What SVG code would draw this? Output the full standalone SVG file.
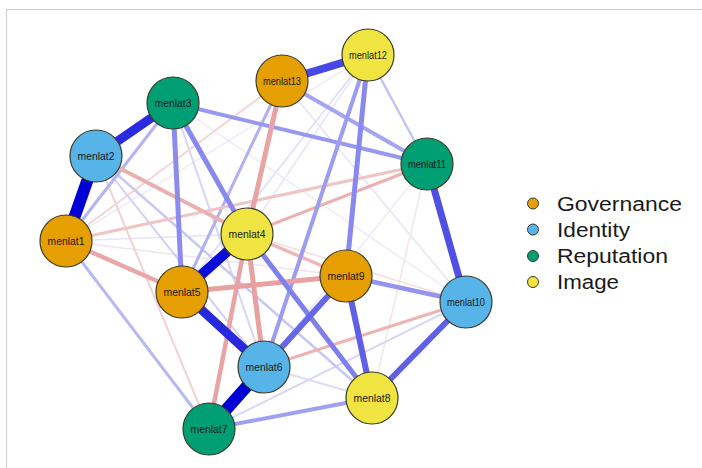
<svg xmlns="http://www.w3.org/2000/svg" width="702" height="468" viewBox="0 0 702 468">
<style>
.frame{fill:none;stroke:#cfcfcf;stroke-width:1.2}
.e{fill:none;stroke-linecap:butt}
.n circle{stroke:#3a3a2a;stroke-width:1.2}
.n text{font-family:"Liberation Sans",Arial,sans-serif;font-size:10px;fill:#1a1a1a;text-anchor:middle}
.gov{fill:#E69F00}
.ide{fill:#56B4E9}
.rep{fill:#009E73}
.img{fill:#F0E442}
.leg text{font-family:"Liberation Sans",Arial,sans-serif;font-size:19.5px;fill:#1a1a1a}
.leg circle{stroke:#3a3a2a;stroke-width:1}
</style>
<rect width="702" height="468" fill="#ffffff"/>
<path class="frame" d="M6.5,468 V9.5 H702"/>
<g id="edges">
<line class="e" x1="368" y1="55" x2="247" y2="234" stroke="#e6e6fa" stroke-width="1.5"/>
<line class="e" x1="368" y1="55" x2="66" y2="241" stroke="#ececfb" stroke-width="1.5"/>
<line class="e" x1="368" y1="55" x2="182" y2="292" stroke="#dcdcf8" stroke-width="1.5"/>
<line class="e" x1="282" y1="81" x2="466" y2="302" stroke="#e4e4f8" stroke-width="1.5"/>
<line class="e" x1="427" y1="164" x2="264" y2="367" stroke="#ececf8" stroke-width="1.5"/>
<line class="e" x1="427" y1="164" x2="372" y2="398" stroke="#f3e6e6" stroke-width="1.5"/>
<line class="e" x1="247" y1="234" x2="466" y2="302" stroke="#f5dede" stroke-width="1.5"/>
<line class="e" x1="173" y1="103" x2="466" y2="302" stroke="#ececf9" stroke-width="1.5"/>
<line class="e" x1="66" y1="241" x2="247" y2="234" stroke="#e4e4fa" stroke-width="1.5"/>
<line class="e" x1="66" y1="241" x2="346" y2="276" stroke="#f0e4ee" stroke-width="1.5"/>
<line class="e" x1="264" y1="367" x2="372" y2="398" stroke="#dcdcf7" stroke-width="2"/>
<line class="e" x1="466" y1="302" x2="209" y2="429" stroke="#d8d8f6" stroke-width="2"/>
<line class="e" x1="173" y1="103" x2="264" y2="367" stroke="#d6d6f7" stroke-width="2"/>
<line class="e" x1="96" y1="156" x2="209" y2="429" stroke="#f3d2d2" stroke-width="2"/>
<line class="e" x1="282" y1="81" x2="66" y2="241" stroke="#f3d6d6" stroke-width="2"/>
<line class="e" x1="96" y1="156" x2="264" y2="367" stroke="#d0d0f6" stroke-width="2"/>
<line class="e" x1="96" y1="156" x2="372" y2="398" stroke="#c8c8f4" stroke-width="2.5"/>
<line class="e" x1="368" y1="55" x2="427" y2="164" stroke="#c4c4f4" stroke-width="2.5"/>
<line class="e" x1="66" y1="241" x2="209" y2="429" stroke="#b8b8f2" stroke-width="3"/>
<line class="e" x1="173" y1="103" x2="66" y2="241" stroke="#b4b4f2" stroke-width="3"/>
<line class="e" x1="282" y1="81" x2="182" y2="292" stroke="#b0b0f2" stroke-width="3"/>
<line class="e" x1="66" y1="241" x2="427" y2="164" stroke="#f0c4c4" stroke-width="3"/>
<line class="e" x1="264" y1="367" x2="466" y2="302" stroke="#eeb4b4" stroke-width="3"/>
<line class="e" x1="247" y1="234" x2="346" y2="276" stroke="#eeb8b8" stroke-width="3.5"/>
<line class="e" x1="247" y1="234" x2="427" y2="164" stroke="#ecb0b0" stroke-width="3"/>
<line class="e" x1="96" y1="156" x2="247" y2="234" stroke="#eab0b0" stroke-width="4"/>
<line class="e" x1="66" y1="241" x2="182" y2="292" stroke="#e8a8a8" stroke-width="4.5"/>
<line class="e" x1="209" y1="429" x2="372" y2="398" stroke="#a0a0f0" stroke-width="4"/>
<line class="e" x1="282" y1="81" x2="427" y2="164" stroke="#a4a4f0" stroke-width="4"/>
<line class="e" x1="173" y1="103" x2="427" y2="164" stroke="#9898ee" stroke-width="4"/>
<line class="e" x1="368" y1="55" x2="264" y2="367" stroke="#9c9cf0" stroke-width="4"/>
<line class="e" x1="346" y1="276" x2="466" y2="302" stroke="#9494ee" stroke-width="4.5"/>
<line class="e" x1="247" y1="234" x2="209" y2="429" stroke="#e8a4a4" stroke-width="4.5"/>
<line class="e" x1="247" y1="234" x2="264" y2="367" stroke="#e8a0a0" stroke-width="5"/>
<line class="e" x1="282" y1="81" x2="247" y2="234" stroke="#e8a4a4" stroke-width="5"/>
<line class="e" x1="182" y1="292" x2="346" y2="276" stroke="#e8a0a0" stroke-width="5"/>
<line class="e" x1="173" y1="103" x2="182" y2="292" stroke="#8c8cee" stroke-width="5"/>
<line class="e" x1="173" y1="103" x2="247" y2="234" stroke="#8888ee" stroke-width="5"/>
<line class="e" x1="368" y1="55" x2="346" y2="276" stroke="#8888ee" stroke-width="5"/>
<line class="e" x1="247" y1="234" x2="372" y2="398" stroke="#8080ec" stroke-width="5"/>
<line class="e" x1="346" y1="276" x2="264" y2="367" stroke="#6666e8" stroke-width="6"/>
<line class="e" x1="346" y1="276" x2="372" y2="398" stroke="#6060e6" stroke-width="6"/>
<line class="e" x1="466" y1="302" x2="372" y2="398" stroke="#6060e6" stroke-width="6"/>
<line class="e" x1="427" y1="164" x2="466" y2="302" stroke="#5050e4" stroke-width="7"/>
<line class="e" x1="368" y1="55" x2="282" y2="81" stroke="#4848e6" stroke-width="8"/>
<line class="e" x1="96" y1="156" x2="173" y2="103" stroke="#2a2ae0" stroke-width="9"/>
<line class="e" x1="182" y1="292" x2="264" y2="367" stroke="#2828dc" stroke-width="9"/>
<line class="e" x1="247" y1="234" x2="182" y2="292" stroke="#0c0cd8" stroke-width="10"/>
<line class="e" x1="66" y1="241" x2="96" y2="156" stroke="#0000d4" stroke-width="12"/>
<line class="e" x1="264" y1="367" x2="209" y2="429" stroke="#0000d4" stroke-width="12"/>
</g>
<g id="menlat1" class="n"><circle class="gov" cx="66" cy="241" r="26"/><text x="66" y="244.5" textLength="37" lengthAdjust="spacingAndGlyphs">menlat1</text></g>
<g id="menlat2" class="n"><circle class="ide" cx="96" cy="156" r="26"/><text x="96" y="159.5" textLength="37" lengthAdjust="spacingAndGlyphs">menlat2</text></g>
<g id="menlat3" class="n"><circle class="rep" cx="173" cy="103" r="26"/><text x="173" y="106.5" textLength="37" lengthAdjust="spacingAndGlyphs">menlat3</text></g>
<g id="menlat4" class="n"><circle class="img" cx="247" cy="234" r="26"/><text x="247" y="237.5" textLength="37" lengthAdjust="spacingAndGlyphs">menlat4</text></g>
<g id="menlat5" class="n"><circle class="gov" cx="182" cy="292" r="26"/><text x="182" y="295.5" textLength="37" lengthAdjust="spacingAndGlyphs">menlat5</text></g>
<g id="menlat6" class="n"><circle class="ide" cx="264" cy="367" r="26"/><text x="264" y="370.5" textLength="37" lengthAdjust="spacingAndGlyphs">menlat6</text></g>
<g id="menlat7" class="n"><circle class="rep" cx="209" cy="429" r="26"/><text x="209" y="432.5" textLength="37" lengthAdjust="spacingAndGlyphs">menlat7</text></g>
<g id="menlat8" class="n"><circle class="img" cx="372" cy="398" r="26"/><text x="372" y="401.5" textLength="37" lengthAdjust="spacingAndGlyphs">menlat8</text></g>
<g id="menlat9" class="n"><circle class="gov" cx="346" cy="276" r="26"/><text x="346" y="279.5" textLength="37" lengthAdjust="spacingAndGlyphs">menlat9</text></g>
<g id="menlat10" class="n"><circle class="ide" cx="466" cy="302" r="26"/><text x="466" y="305.5" textLength="38" lengthAdjust="spacingAndGlyphs">menlat10</text></g>
<g id="menlat11" class="n"><circle class="rep" cx="427" cy="164" r="26"/><text x="427" y="167.5" textLength="38" lengthAdjust="spacingAndGlyphs">menlat11</text></g>
<g id="menlat12" class="n"><circle class="img" cx="368" cy="55" r="26"/><text x="368" y="58.5" textLength="38" lengthAdjust="spacingAndGlyphs">menlat12</text></g>
<g id="menlat13" class="n"><circle class="gov" cx="282" cy="81" r="26"/><text x="282" y="84.5" textLength="38" lengthAdjust="spacingAndGlyphs">menlat13</text></g>
<g id="legend" class="leg">
<circle class="gov" cx="533" cy="203.5" r="5.5"/><text x="557" y="211" textLength="125" lengthAdjust="spacingAndGlyphs">Governance</text>
<circle class="ide" cx="533" cy="229.5" r="5.5"/><text x="557" y="237" textLength="73" lengthAdjust="spacingAndGlyphs">Identity</text>
<circle class="rep" cx="533" cy="256" r="5.5"/><text x="557" y="263" textLength="111" lengthAdjust="spacingAndGlyphs">Reputation</text>
<circle class="img" cx="533" cy="282" r="5.5"/><text x="557" y="289" textLength="62" lengthAdjust="spacingAndGlyphs">Image</text>
</g>
</svg>
